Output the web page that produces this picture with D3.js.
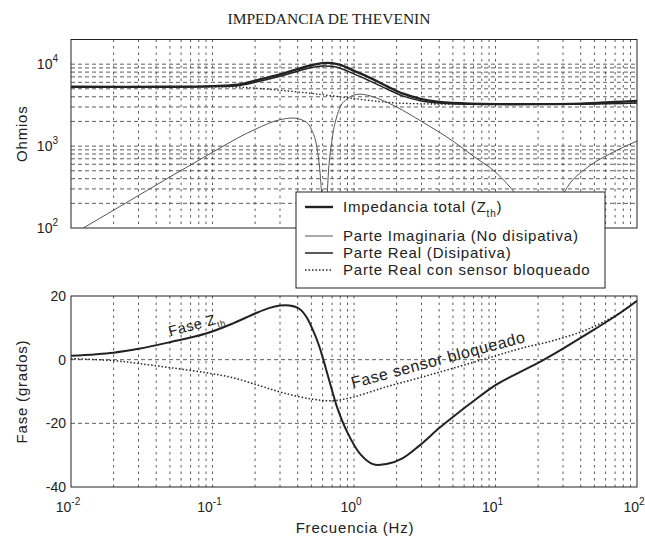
<!DOCTYPE html>
<html><head><meta charset="utf-8">
<script src="https://cdn.jsdelivr.net/npm/d3@7/dist/d3.min.js"></script>
<style>
html,body{margin:0;padding:0;background:#fff;}
svg{display:block;}
text{font-family:"Liberation Sans",Arial,sans-serif;fill:#222;}
</style></head>
<body>
<svg id="chart" width="645" height="541"></svg>
<script>
// ---------------- DATA ----------------
const title = "IMPEDANCIA DE THEVENIN";
// |Z_th| total (ohm)
const totalF = [0.01,0.05,0.1,0.15,0.2,0.3,0.4,0.5,0.6,0.7,0.8,1.0,1.3,1.7,2.2,3,4,5,10,20,40,70,100];
const totalZ = [5300,5300,5400,5600,6300,7500,8700,9700,10300,10300,9800,8300,6800,5400,4400,3750,3450,3350,3250,3250,3300,3450,3550];
// Real part (ohm)
const realF = [0.01,0.05,0.1,0.15,0.2,0.3,0.4,0.5,0.6,0.7,0.8,1.0,1.3,1.7,2.2,3,4,5,10,20,40,70,100];
const realZ = [5300,5280,5330,5450,6000,7100,8200,9100,9500,9400,8900,7600,6200,5000,4100,3550,3350,3280,3230,3230,3250,3300,3350];
// Imaginary part magnitude (ohm)
const imagF = [0.0122,0.02,0.05,0.1,0.15,0.2,0.3,0.37,0.45,0.5,0.55,0.58,0.6,0.61,0.63,0.65,0.7,0.75,0.8,0.9,1.0,1.1,1.3,1.6,2,3,5,7,10,12,14,16,18,20,22,25,28,32,44,64,100];
const imagZ = [100,165,420,840,1250,1600,2100,2200,2000,1600,900,400,150,60,60,300,1200,2200,3000,3800,4200,4300,4100,3600,3000,2000,1150,750,480,350,250,150,70,25,30,110,200,310,540,800,1150];
// Real part, blocked sensor (ohm)
const blockF = [0.01,0.1,0.15,0.2,0.3,0.5,0.7,1,1.5,2,3,5,10,20,50,100];
const blockZ = [5300,5300,5250,5100,4800,4400,4100,3800,3500,3350,3280,3250,3230,3230,3260,3350];
// Phase Z_th (deg)
const phaseF = [0.01,0.02,0.03,0.05,0.09,0.14,0.2,0.25,0.3,0.35,0.41,0.46,0.51,0.56,0.6,0.67,0.76,0.89,1.1,1.36,1.7,2.2,2.9,4,5,7,10,15,20,30,50,75,100];
const phaseZ = [1.2,2.2,3.4,5.5,8.2,11.4,14.5,16.2,17,17,16,13.5,9.5,5,0.8,-6.7,-15,-22.5,-29.5,-32.8,-32.8,-31,-27,-21.5,-18,-13,-8,-3.8,-1,3.5,9.5,14.5,18.5];
// Phase blocked sensor (deg)
const phaseBF = [0.01,0.02,0.03,0.05,0.09,0.14,0.22,0.32,0.51,0.7,0.98,1.7,2.9,5,10,15,25.6,44,75,100];
const phaseB = [0.3,-0.3,-1.2,-2.5,-4.1,-5.7,-8.3,-10.5,-12.4,-12.9,-11.8,-8.5,-5.7,-2.7,1.2,3.5,6,9.4,14.6,18.5];
// Ticks
const xTickExp = [-2,-1,0,1,2];
const yTopTickExp = [2,3,4];
const yBotTicks = [20,0,-20,-40];
const legendLabels = ["Impedancia total (Z", "Parte Imaginaria (No disipativa)", "Parte Real (Disipativa)", "Parte Real con sensor bloqueado"];

// ---------------- LAYOUT ----------------
const svg = d3.select("#chart");
const L = 71, R = 637;
const top1 = 39.5, bot1 = 228;
const top2 = 296, bot2 = 487;
const ink = "#222";
const LS = "0.8px";

const x = d3.scaleLog().domain([0.01, 100]).range([L, R]);
const yT = d3.scaleLog().domain([100, 20000]).range([bot1, top1]);
const yB = d3.scaleLinear().domain([-40, 20]).range([bot2, top2]);

const xMinor = [];
for (let e = -2; e < 2; e++) for (let m = 2; m <= 9; m++) xMinor.push(m * Math.pow(10, e));
const yMinor = [];
for (let e = 2; e < 5; e++) for (let m = 1; m <= 9; m++) { const v = m * Math.pow(10, e); if (v > 100 && v < 20000) yMinor.push(v); }

svg.append("text").attr("x", 329).attr("y", 24).attr("text-anchor", "middle")
  .style("font-family", "'Liberation Serif','Times New Roman',serif").style("font-size", "15.5px").text(title);

function gridV(g, y0, y1) {
  g.selectAll(null).data(xMinor.concat([0.1, 1, 10])).enter().append("line")
    .attr("x1", d => x(d)).attr("x2", d => x(d)).attr("y1", y0).attr("y2", y1)
    .attr("stroke", "#333").attr("stroke-width", 0.8).attr("stroke-dasharray", "2.5,4");
}

// ---- TOP PLOT ----
const g1 = svg.append("g");
gridV(g1, top1, bot1);
g1.selectAll(null).data(yMinor).enter().append("line")
  .attr("x1", L).attr("x2", R).attr("y1", d => yT(d)).attr("y2", d => yT(d))
  .attr("stroke", "#333").attr("stroke-width", 0.8).attr("stroke-dasharray", "4,3");

svg.append("clipPath").attr("id", "c1").append("rect").attr("x", L).attr("y", top1).attr("width", R - L).attr("height", bot1 - top1);
svg.append("clipPath").attr("id", "c2").append("rect").attr("x", L).attr("y", top2).attr("width", R - L).attr("height", bot2 - top2);

const lineT = d3.line().x(d => x(d[0])).y(d => yT(d[1])).curve(d3.curveCatmullRom.alpha(0.5));
const lineTm = d3.line().x(d => x(d[0])).y(d => yT(d[1])).curve(d3.curveMonotoneX);
const zip = (a, b) => a.map((v, i) => [v, b[i]]);
const cg1 = g1.append("g").attr("clip-path", "url(#c1)");
cg1.append("path").attr("d", lineT(zip(blockF, blockZ))).attr("fill", "none").attr("stroke", ink).attr("stroke-width", 1.3).attr("stroke-dasharray", "1.5,2");
cg1.append("path").attr("d", lineTm(zip(imagF, imagZ))).attr("fill", "none").attr("stroke", "#555").attr("stroke-width", 1);
cg1.append("path").attr("d", lineT(zip(realF, realZ))).attr("fill", "none").attr("stroke", ink).attr("stroke-width", 1.5);
cg1.append("path").attr("d", lineT(zip(totalF, totalZ))).attr("fill", "none").attr("stroke", ink).attr("stroke-width", 2.4);

g1.append("rect").attr("x", L).attr("y", top1).attr("width", R - L).attr("height", bot1 - top1)
  .attr("fill", "none").attr("stroke", ink).attr("stroke-width", 1);

yTopTickExp.forEach(e => {
  const t = g1.append("text").attr("x", 58).attr("y", yT(Math.pow(10, e)) + 5).attr("text-anchor", "end").style("font-size", "14px");
  t.append("tspan").text("10");
  t.append("tspan").attr("dy", -7).style("font-size", "10px").text(e);
});
svg.append("text").attr("transform", `translate(27,${(top1 + bot1) / 2}) rotate(-90)`).attr("text-anchor", "middle")
  .style("font-size", "15px").style("letter-spacing", LS).text("Ohmios");

// ---- BOTTOM PLOT ----
const g2 = svg.append("g");
gridV(g2, top2, bot2);
g2.selectAll(null).data([0, -20]).enter().append("line")
  .attr("x1", L).attr("x2", R).attr("y1", d => yB(d)).attr("y2", d => yB(d))
  .attr("stroke", "#333").attr("stroke-width", 0.8).attr("stroke-dasharray", "4,3");

const lineB = d3.line().x(d => x(d[0])).y(d => yB(d[1])).curve(d3.curveCatmullRom.alpha(0.5));
const cg2 = g2.append("g").attr("clip-path", "url(#c2)");
cg2.append("path").attr("d", lineB(zip(phaseBF, phaseB))).attr("fill", "none").attr("stroke", ink).attr("stroke-width", 1.5).attr("stroke-dasharray", "1.5,2");
cg2.append("path").attr("d", lineB(zip(phaseF, phaseZ))).attr("fill", "none").attr("stroke", ink).attr("stroke-width", 2);

g2.append("rect").attr("x", L).attr("y", top2).attr("width", R - L).attr("height", bot2 - top2)
  .attr("fill", "none").attr("stroke", ink).attr("stroke-width", 1);

yBotTicks.forEach(v => {
  g2.append("text").attr("x", 66).attr("y", yB(v) + 5).attr("text-anchor", "end").style("font-size", "14px").text(v);
});
xTickExp.forEach(e => {
  const t = g2.append("text").attr("x", x(Math.pow(10, e)) - 3).attr("y", 512).attr("text-anchor", "middle").style("font-size", "14px");
  t.append("tspan").text("10");
  t.append("tspan").attr("dy", -7).style("font-size", "10px").text(e);
});
svg.append("text").attr("transform", `translate(27,${(top2 + bot2) / 2}) rotate(-90)`).attr("text-anchor", "middle")
  .style("font-size", "15px").style("letter-spacing", LS).text("Fase (grados)");
svg.append("text").attr("x", 355).attr("y", 533).attr("text-anchor", "middle").style("font-size", "15px").style("letter-spacing", LS).text("Frecuencia (Hz)");

// annotations
const a1 = g2.append("text").attr("transform", `translate(${x(0.05)},${yB(7.3)}) rotate(-15)`).style("font-size", "14.5px").style("letter-spacing", "0.6px");
a1.append("tspan").text("Fase Z");
a1.append("tspan").attr("dy", 4).style("font-size", "9px").text("th");
g2.append("text").attr("transform", `translate(${x(0.98)},${yB(-9)}) rotate(-15)`).style("font-size", "16px").style("letter-spacing", "0.6px").text("Fase sensor bloqueado");

// ---- LEGEND ----
const lg = svg.append("g");
lg.append("rect").attr("x", 296).attr("y", 192).attr("width", 309).attr("height", 96)
  .attr("fill", "#fff").attr("stroke", ink).attr("stroke-width", 1);
const rowsY = [207, 236, 253, 270];
const styles = [{w: 2.4, c: ink, d: null}, {w: 1, c: "#555", d: null}, {w: 1.5, c: ink, d: null}, {w: 1.3, c: ink, d: "1.5,2"}];
legendLabels.forEach((lab, i) => {
  const s = styles[i];
  const ln = lg.append("line").attr("x1", 305).attr("x2", 333).attr("y1", rowsY[i]).attr("y2", rowsY[i])
    .attr("stroke", s.c).attr("stroke-width", s.w);
  if (s.d) ln.attr("stroke-dasharray", s.d);
  const t = lg.append("text").attr("x", 343).attr("y", rowsY[i] + 5).style("font-size", "15px").style("letter-spacing", LS);
  t.append("tspan").text(lab);
  if (i === 0) {
    t.append("tspan").attr("dy", 5).style("font-size", "10px").text("th");
    t.append("tspan").attr("dy", -5).text(")");
  }
});
</script>
</body></html>
